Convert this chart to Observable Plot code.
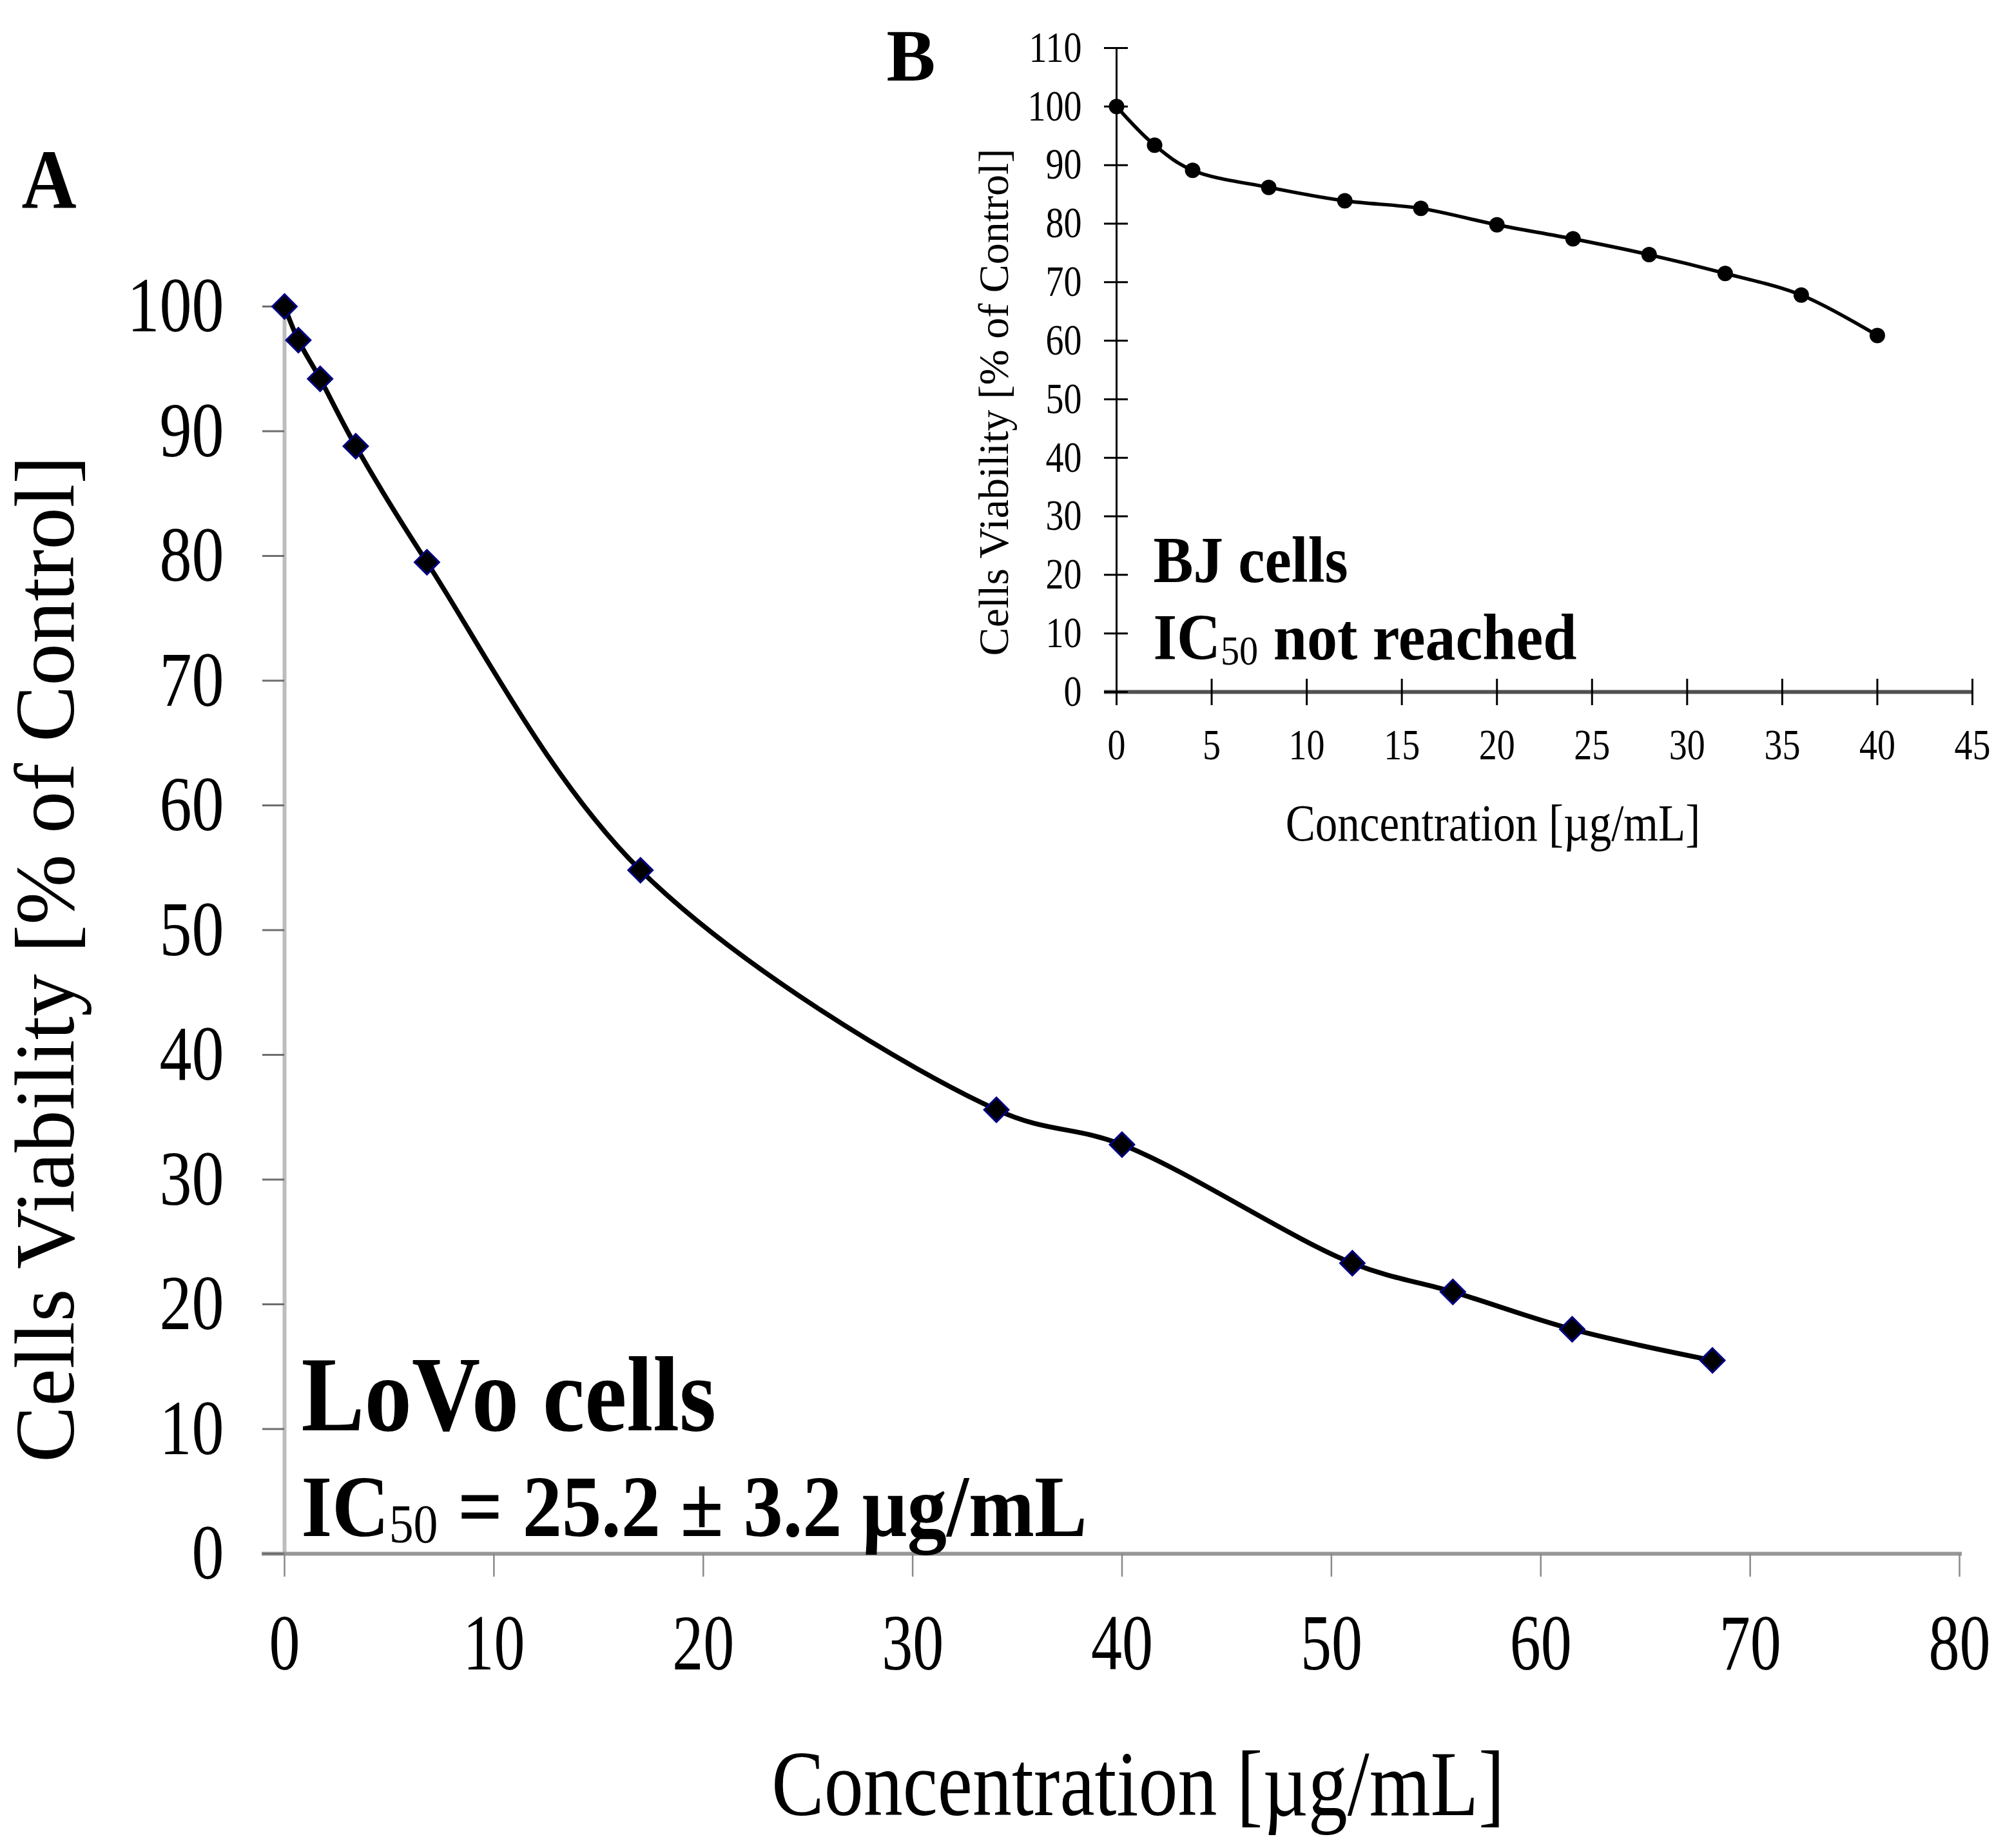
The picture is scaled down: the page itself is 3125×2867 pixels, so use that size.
<!DOCTYPE html>
<html><head><meta charset="utf-8">
<script src="https://cdn.jsdelivr.net/npm/d3@7"></script>
<script src="https://cdn.jsdelivr.net/npm/@observablehq/plot@0.6"></script>
<style>
html,body{margin:0;padding:0;background:#fff;}
#wrap{position:relative;width:3125px;height:2867px;background:#fff;}
#wrap svg{position:absolute;left:0;top:0;}
</style></head><body><div id="wrap"></div>
<script>
// ---- data ----
const lovoConc = [0, 0.66, 1.7, 3.4, 6.8, 17, 34, 40, 51, 55.8, 61.5, 68.2];
const lovoViab = [100, 97.3, 94.2, 88.8, 79.5, 54.8, 35.6, 32.8, 23.3, 21.0, 18.0, 15.5];
const bjConc = [0, 2, 4, 8, 12, 16, 20, 24, 28, 32, 36, 40];
const bjViab = [100, 93.4, 89.1, 86.2, 83.9, 82.6, 79.8, 77.4, 74.7, 71.5, 67.8, 60.9];
const mainXTicks = [0, 10, 20, 30, 40, 50, 60, 70, 80];
const mainYTicks = [0, 10, 20, 30, 40, 50, 60, 70, 80, 90, 100];
const insetXTicks = [0, 5, 10, 15, 20, 25, 30, 35, 40, 45];
const insetYTicks = [0, 10, 20, 30, 40, 50, 60, 70, 80, 90, 100, 110];
const mainTitle = ["A"];
const insetTitle = ["B"];
const xLabel = ["Concentration [µg/mL]"];
const yLabel = ["Cells Viability [% of Control]"];
const lovoName = ["LoVo cells"];
const lovoIC = ["IC50 = 25.2 ± 3.2 µg/mL"];
const bjName = ["BJ cells"];
const bjIC = ["IC50 not reached"];

const lovo = lovoConc.map((c, i) => ({conc: c, viab: lovoViab[i]}));
const bj = bjConc.map((c, i) => ({conc: c, viab: bjViab[i]}));

const serif = "'Liberation Serif','Times New Roman',serif";
const W = 3125, H = 2867;
const txt = d => d;

const main = Plot.plot({
  width: W, height: H,
  marginLeft: 441, marginRight: 85, marginTop: 475, marginBottom: 457,
  style: {background: "transparent", fontFamily: serif, color: "black", overflow: "visible"},
  x: {domain: [0, 80]},
  y: {domain: [0, 100]},
  marks: [
    Plot.ruleX([0], {stroke: "#bdbdbd", strokeWidth: 6}),
    Plot.ruleY([0], {stroke: "#979797", strokeWidth: 6, insetLeft: -35, insetRight: -4}),
    Plot.axisY({ticks: mainYTicks, tickSize: 34, tickPadding: 60, fontSize: 100, stroke: "#6e6e6e", strokeWidth: 3, fill: "black", label: null}),
    Plot.axisX({ticks: mainXTicks, tickSize: 36, tickPadding: 56, fontSize: 96, stroke: "#8a8a8a", strokeWidth: 2.5, fill: "black", label: null}),
    Plot.line(lovo, {x: "conc", y: "viab", curve: "catmull-rom", stroke: "black", strokeWidth: 7.5}),
    Plot.dot(lovo, {x: "conc", y: "viab", symbol: "diamond2", r: 17, fill: "black", stroke: "#000080", strokeWidth: 3}),
    Plot.text(mainTitle, {text: txt, frameAnchor: "top-left", textAnchor: "start", lineAnchor: "bottom", dx: -408, dy: -153, fontSize: 118, fontWeight: "bold", fill: "black"}),
    Plot.text(xLabel, {text: txt, frameAnchor: "bottom", textAnchor: "middle", lineAnchor: "bottom", dx: 25, dy: 405, fontSize: 122, fill: "black"}),
    Plot.text(yLabel, {text: txt, frameAnchor: "left", textAnchor: "middle", lineAnchor: "bottom", rotate: -90, dx: -328, dy: 45, fontSize: 131, fill: "black"}),
    Plot.text(lovoName, {text: txt, frameAnchor: "bottom-left", textAnchor: "start", lineAnchor: "bottom", dx: 26, dy: -192, fontSize: 147, fontWeight: "bold", fill: "black"}),
    Plot.text(lovoIC, {text: txt, frameAnchor: "bottom-left", textAnchor: "start", lineAnchor: "bottom", dx: 26, dy: -28, fontSize: 122.5, fontWeight: "bold", fill: "black"})
  ]
});

const inset = Plot.plot({
  width: W, height: H,
  marginLeft: 1732, marginRight: 65, marginTop: 74, marginBottom: 1794,
  style: {background: "transparent", fontFamily: serif, color: "black", overflow: "visible"},
  x: {domain: [0, 45]},
  y: {domain: [0, 110]},
  marks: [
    Plot.ruleX([0], {stroke: "black", strokeWidth: 3}),
    Plot.ruleY([0], {stroke: "#505050", strokeWidth: 6, insetLeft: -19}),
    Plot.ruleY(insetYTicks, {x1: 0, x2: 0, insetLeft: -19, insetRight: -18, stroke: "black", strokeWidth: 3}),
    Plot.ruleX(insetXTicks, {y1: 0, y2: 0, insetTop: -20, insetBottom: -21, stroke: "black", strokeWidth: 3}),
    Plot.axisY({ticks: insetYTicks, tickSize: 0, tickPadding: 54, fontSize: 56, fill: "black", label: null}),
    Plot.axisX({ticks: insetXTicks, tickSize: 0, tickPadding: 57, fontSize: 56, fill: "black", label: null}),
    Plot.line(bj, {x: "conc", y: "viab", curve: "catmull-rom", stroke: "black", strokeWidth: 5.5}),
    Plot.dot(bj, {x: "conc", y: "viab", r: 12, fill: "black"}),
    Plot.text(insetTitle, {text: txt, frameAnchor: "top-left", textAnchor: "start", lineAnchor: "bottom", dx: -357, dy: 50, fontSize: 114, fontWeight: "bold", fill: "black"}),
    Plot.text(xLabel, {text: txt, frameAnchor: "bottom", textAnchor: "middle", lineAnchor: "bottom", dx: -80, dy: 230, fontSize: 69, fill: "black"}),
    Plot.text(yLabel, {text: txt, frameAnchor: "left", textAnchor: "middle", lineAnchor: "bottom", rotate: -90, dx: -169, dy: 50, fontSize: 66, fill: "black"}),
    Plot.text(bjName, {text: txt, frameAnchor: "bottom-left", textAnchor: "start", lineAnchor: "bottom", dx: 57, dy: -171, fontSize: 93, fontWeight: "bold", fill: "black"}),
    Plot.text(bjIC, {text: txt, frameAnchor: "bottom-left", textAnchor: "start", lineAnchor: "bottom", dx: 57, dy: -51, fontSize: 94, fontWeight: "bold", fill: "black"})
  ]
});

const wrap = document.getElementById("wrap");
wrap.appendChild(main);
wrap.appendChild(inset);

const NS = "http://www.w3.org/2000/svg";
function subscriptIC(svg) {
  svg.querySelectorAll("text").forEach(t => {
    const s = t.textContent;
    if (!s.startsWith("IC50")) return;
    const fs = parseFloat(getComputedStyle(t).fontSize);
    t.textContent = "";
    t.appendChild(document.createTextNode("IC"));
    const sub = document.createElementNS(NS, "tspan");
    sub.setAttribute("font-size", fs * 0.62);
    sub.setAttribute("font-weight", "normal");
    sub.setAttribute("dy", fs * 0.08);
    sub.textContent = "50";
    t.appendChild(sub);
    const rest = document.createElementNS(NS, "tspan");
    rest.setAttribute("dy", -fs * 0.08);
    rest.textContent = s.slice(4);
    t.appendChild(rest);
  });
}
function stretchTexts(svg, table) {
  svg.querySelectorAll("text").forEach(t => {
    const fs = Math.round(parseFloat(getComputedStyle(t).fontSize) * 2) / 2;
    const k = table[fs];
    if (!k || k === 1) return;
    const tr = t.getAttribute("transform") || "";
    const x = t.getAttribute("x"), y = t.getAttribute("y");
    let tx = 0, ty = 0;
    if (x && !/em$/.test(x)) { tx = parseFloat(x) || 0; t.removeAttribute("x"); }
    if (y && !/em$/.test(y)) { ty = parseFloat(y) || 0; t.removeAttribute("y"); }
    t.setAttribute("transform", `${tr} translate(${tx},${ty}) scale(1,${k})`);
  });
}
subscriptIC(main);
subscriptIC(inset);
stretchTexts(main, {100: 1.21, 96: 1.28, 122: 1.18, 147: 1.12, 122.5: 1.1, 118: 1.11});
stretchTexts(inset, {93: 1.1, 94: 1.08, 69: 1.16, 56: 1.19});
</script>
</body></html>
